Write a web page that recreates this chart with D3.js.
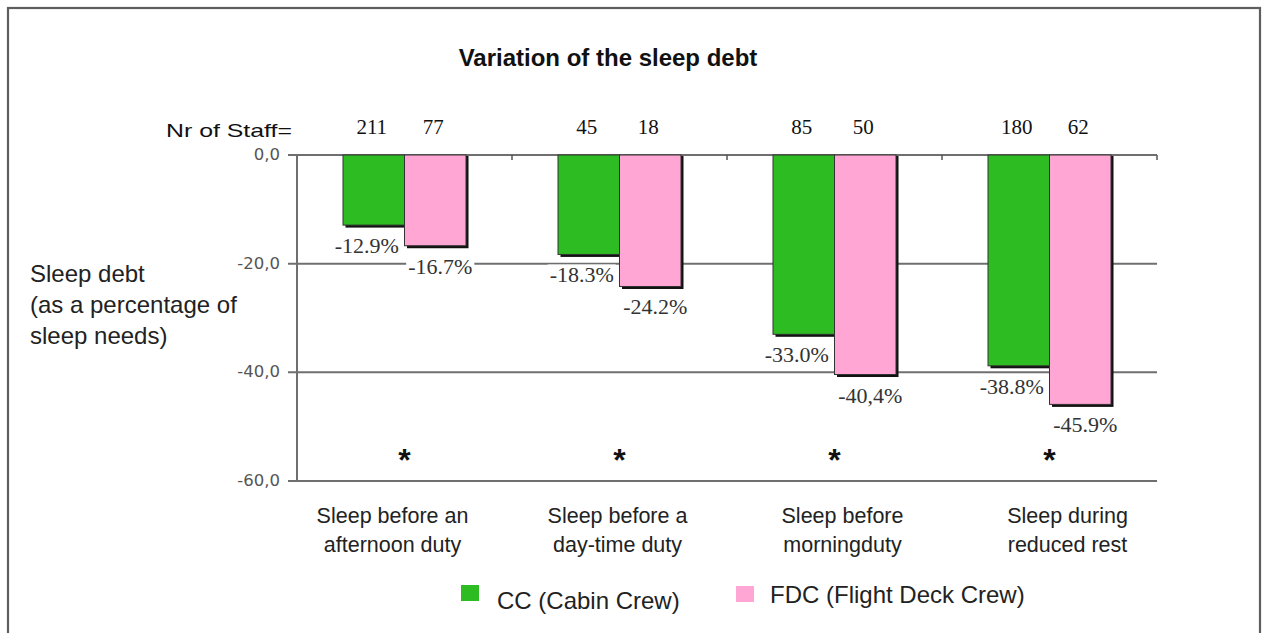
<!DOCTYPE html>
<html>
<head>
<meta charset="utf-8">
<script src="https://cdn.jsdelivr.net/npm/d3@7"></script>
<style>
  html, body { margin: 0; padding: 0; background: #fff; }
  svg { display: block; }
</style>
</head>
<body>
<svg id="chart" width="1262" height="633"></svg>
<script>
// ---- data ----
const categories = ["Sleep before an afternoon duty", "Sleep before a day-time duty", "Sleep before morningduty", "Sleep during reduced rest"];
const categoryLines = [["Sleep before an", "afternoon duty"], ["Sleep before a", "day-time duty"], ["Sleep before", "morningduty"], ["Sleep during", "reduced rest"]];
const seriesNames = ["CC (Cabin Crew)", "FDC (Flight Deck Crew)"];
const ccValues = [-12.9, -18.3, -33.0, -38.8];
const fdcValues = [-16.7, -24.2, -40.4, -45.9];
const ccLabels = ["-12.9%", "-18.3%", "-33.0%", "-38.8%"];
const fdcLabels = ["-16.7%", "-24.2%", "-40,4%", "-45.9%"];
const ccStaff = [211, 45, 85, 180];
const fdcStaff = [77, 18, 50, 62];
const significance = ["*", "*", "*", "*"];
const yTicks = [0, -20, -40, -60];
const yTickLabels = ["0,0", "-20,0", "-40,0", "-60,0"];
const colors = ["#2dbd23", "#ffa6d4"];

// ---- layout ----
const svg = d3.select("#chart");

// frame
svg.append("rect").attr("x", 8).attr("y", 8).attr("width", 1252).attr("height", 640)
  .attr("fill", "#fff").attr("stroke", "#5e5e5e").attr("stroke-width", 2.2);

const y = d3.scaleLinear().domain([0, -60]).range([155, 481]);
const x0 = d3.scaleBand().domain(categories).range([297, 1157]);
const groupInner = 123;
const x1 = d3.scaleBand().domain(seriesNames).range([0, groupInner]);
const off = (x0.bandwidth() - groupInner) / 2;
const labelX = d3.scaleBand().domain(categories).range([280, 1180]);

// title
svg.append("text").attr("x", 608).attr("y", 66).attr("text-anchor", "middle")
  .attr("font-family", "Liberation Sans, Arial, sans-serif").attr("font-weight", "bold")
  .attr("font-size", 24).attr("fill", "#111").text("Variation of the sleep debt");

// gridlines
const gridColor = "#6f6f6f";
svg.append("g").selectAll("line").data(yTicks).join("line")
  .attr("x1", 288).attr("x2", x0.range()[1])
  .attr("y1", d => y(d)).attr("y2", d => y(d))
  .attr("stroke", gridColor).attr("stroke-width", 2);

// y axis line
svg.append("line").attr("x1", 297).attr("x2", 297).attr("y1", y(0)).attr("y2", y(-60))
  .attr("stroke", gridColor).attr("stroke-width", 2);

// boundary ticks on zero line
svg.append("g").selectAll("line").data(categories).join("line")
  .attr("x1", d => x0(d) + x0.bandwidth()).attr("x2", d => x0(d) + x0.bandwidth())
  .attr("y1", y(0)).attr("y2", y(0) + 5)
  .attr("stroke", "#555").attr("stroke-width", 1.5);

// y tick labels
svg.append("g").selectAll("text").data(yTicks).join("text")
  .attr("x", 280).attr("y", d => y(d) + 5).attr("text-anchor", "end")
  .attr("font-family", "DejaVu Sans, Verdana, sans-serif").attr("font-size", 16.5)
  .attr("fill", "#555").text((d, i) => yTickLabels[i]);

// y axis title
const yTitle = ["Sleep debt", "(as a percentage of", "sleep needs)"];
svg.append("g").selectAll("text").data(yTitle).join("text")
  .attr("x", 30).attr("y", (d, i) => 282 + i * 31)
  .attr("font-family", "Liberation Sans, Arial, sans-serif").attr("font-size", 24)
  .attr("fill", "#222").text(d => d);

// bars
const seriesData = [
  { name: seriesNames[0], values: ccValues, labels: ccLabels, staff: ccStaff, color: colors[0], lab: -7 },
  { name: seriesNames[1], values: fdcValues, labels: fdcLabels, staff: fdcStaff, color: colors[1], lab: 5 }
];

const barsG = svg.append("g");
seriesData.forEach(s => {
  const g = barsG.append("g");
  const bx = (i) => x0(categories[i]) + off + x1(s.name);
  g.selectAll("rect.shadow").data(s.values).join("rect").attr("class", "shadow")
    .attr("x", (d, i) => bx(i) + 2.5).attr("y", y(0) + 1)
    .attr("width", x1.bandwidth()).attr("height", d => y(d) - y(0) + 1.5)
    .attr("fill", "#111");
  g.selectAll("rect.bar").data(s.values).join("rect").attr("class", "bar")
    .attr("x", (d, i) => bx(i)).attr("y", y(0))
    .attr("width", x1.bandwidth()).attr("height", d => y(d) - y(0))
    .attr("fill", s.color).attr("stroke", "#333").attr("stroke-width", 1);
});

// value labels with white background
const labG = svg.append("g");
seriesData.forEach(s => {
  s.values.forEach((v, i) => {
    const cx = x0(categories[i]) + off + x1(s.name) + x1.bandwidth() / 2 + s.lab;
    const t = labG.append("text").attr("x", cx).attr("y", y(v) + 28)
      .attr("text-anchor", "middle")
      .attr("font-family", "Liberation Serif, Times New Roman, serif").attr("font-size", 22)
      .attr("fill", "#333").text(s.labels[i]);
    const bb = t.node().getBBox();
    labG.insert("rect", () => t.node())
      .attr("x", bb.x - 2).attr("y", bb.y + 2).attr("width", bb.width + 4).attr("height", bb.height - 4)
      .attr("fill", "#fff");
  });
});

// staff counts
svg.append("text").attr("x", 166).attr("y", 137)
  .attr("font-family", "Liberation Sans, Arial, sans-serif").attr("font-size", 19)
  .attr("textLength", 126).attr("lengthAdjust", "spacingAndGlyphs")
  .attr("fill", "#111").text("Nr of Staff=");
seriesData.forEach(s => {
  svg.append("g").selectAll("text").data(s.staff).join("text")
    .attr("x", (d, i) => x0(categories[i]) + off + x1(s.name) + x1.bandwidth() / 2 - 2)
    .attr("y", 134).attr("text-anchor", "middle")
    .attr("font-family", "Liberation Serif, Times New Roman, serif").attr("font-size", 21)
    .attr("fill", "#111").text(d => d);
});

// significance asterisks
svg.append("g").selectAll("text").data(significance).join("text")
  .attr("x", (d, i) => x0(categories[i]) + x0.bandwidth() / 2)
  .attr("y", 471).attr("text-anchor", "middle")
  .attr("font-family", "Liberation Sans, Arial, sans-serif").attr("font-size", 32).attr("font-weight", "bold")
  .attr("fill", "#111").text(d => d);

// category labels
categories.forEach((c, i) => {
  svg.append("g").selectAll("text").data(categoryLines[i]).join("text")
    .attr("x", labelX(c) + labelX.bandwidth() / 2)
    .attr("y", (d, j) => 523 + j * 29).attr("text-anchor", "middle")
    .attr("font-family", "Liberation Sans, Arial, sans-serif").attr("font-size", 21.5)
    .attr("fill", "#222").text(d => d);
});

// legend
const legend = [
  { name: seriesNames[0], color: colors[0], sx: 461, sy: 585, tx: 497, ty: 609 },
  { name: seriesNames[1], color: colors[1], sx: 736, sy: 586, tx: 770, ty: 603 }
];
legend.forEach(l => {
  svg.append("rect").attr("x", l.sx).attr("y", l.sy).attr("width", 18).attr("height", 16).attr("fill", l.color);
  svg.append("text").attr("x", l.tx).attr("y", l.ty)
    .attr("font-family", "Liberation Sans, Arial, sans-serif").attr("font-size", 24)
    .attr("fill", "#222").text(l.name);
});
</script>
</body>
</html>
